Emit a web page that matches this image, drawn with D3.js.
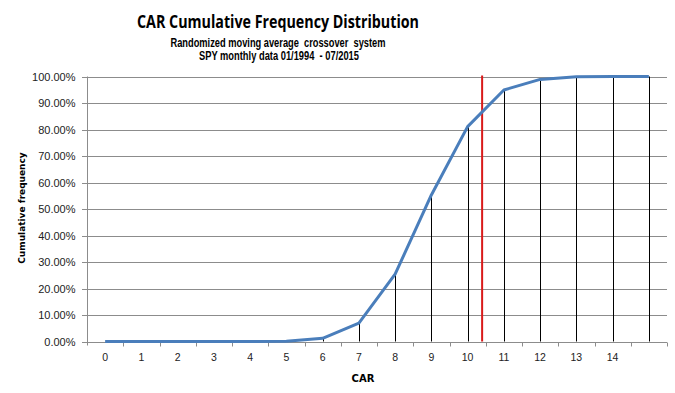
<html>
<head>
<script src="https://d3js.org/d3.v7.min.js"></script>
<style>
body { margin: 0; background: #fff; }
svg { font-family: "DejaVu Sans", Tahoma, sans-serif; }
.grid line { stroke: #8c8c8c; stroke-width: 1; }
.axis path, .axis line { stroke: #8c8c8c; }
</style>
</head>
<body>
<div id="root"></div>
<script>
// categorias eje x (la ultima sin etiqueta)
var categorias = ["0","1","2","3","4","5","6","7","8","9","10","11","12","13","14",""];
// frecuencia acumulada (fraccion)
var acumulado = [0, 0, 0, 0, 0, 0.001, 0.012, 0.069, 0.254, 0.553, 0.811, 0.949, 0.989, 0.999, 1.0, 1.0];
var yTicks = [0, 0.1, 0.2, 0.3, 0.4, 0.5, 0.6, 0.7, 0.8, 0.9, 1.0];
var carActual = 10.4; // linea roja

var W = 675, H = 393;
var mLeft = 87, mRight = 667, mTop = 76.5, mBottom = 341.5;

var svg = d3.select("#root").append("svg")
  .attr("width", W).attr("height", H);

/* escalas */
var x = d3.scaleBand().domain(categorias.map((d, i) => i)).range([mLeft, mRight]);
var xc = i => x(i) + x.bandwidth() / 2;
var y = d3.scaleLinear().domain([0, 1]).range([mBottom, mTop]);

/* titulos */
svg.append("text").attr("x", 278).attr("y", 28)
  .attr("text-anchor", "middle")
  .attr("textLength", 282).attr("lengthAdjust", "spacingAndGlyphs")
  .style("font-family", "'Open Sans', sans-serif")
  .style("font-weight", "bold").style("font-size", "18px")
  .text("CAR Cumulative Frequency Distribution");
svg.append("text").attr("x", 278).attr("y", 47)
  .attr("text-anchor", "middle")
  .attr("textLength", 215).attr("lengthAdjust", "spacingAndGlyphs")
  .style("font-family", "'Liberation Sans', sans-serif")
  .style("white-space", "pre")
  .style("font-weight", "bold").style("font-size", "12.5px")
  .text("Randomized moving average  crossover  system");
svg.append("text").attr("x", 279).attr("y", 60)
  .attr("text-anchor", "middle")
  .attr("textLength", 160).attr("lengthAdjust", "spacingAndGlyphs")
  .style("font-family", "'Liberation Sans', sans-serif")
  .style("white-space", "pre")
  .style("font-weight", "bold").style("font-size", "12.5px")
  .text("SPY monthly data 01/1994  - 07/2015");

/* rejilla horizontal */
svg.append("g").attr("class", "grid")
  .selectAll("line").data(yTicks).enter().append("line")
  .attr("x1", mLeft - 5).attr("x2", mRight)
  .attr("y1", d => Math.round(y(d)) + 0.5).attr("y2", d => Math.round(y(d)) + 0.5);

/* eje y */
var yAxis = d3.axisLeft(y).tickValues(yTicks).tickSize(0).tickPadding(12)
  .tickFormat(d => d3.format(".2f")(d * 100) + "%");
svg.append("g").attr("class", "axis")
  .attr("transform", "translate(" + (mLeft + 0.5) + ",0)")
  .call(yAxis)
  .call(g => g.selectAll("text").style("font-size", "11px").attr("fill", "#222"))
  .call(g => g.select(".domain").attr("d", "M0," + mTop + "V" + (mBottom + 4)));

/* eje x */
var xAxis = d3.axisBottom(x).tickSize(0).tickPadding(11).tickFormat(i => categorias[i]);
var gx = svg.append("g").attr("class", "axis")
  .attr("transform", "translate(0," + (Math.round(mBottom) + 0.5) + ")")
  .call(xAxis);
gx.selectAll("text").style("font-size", "10.5px").attr("fill", "#222");
gx.select(".domain").attr("d", "M" + mLeft + ",0H" + mRight);
gx.selectAll(".sep").data(d3.range(1, categorias.length + 1)).enter().append("line")
  .attr("class", "sep")
  .attr("x1", i => Math.round(mLeft + i * x.bandwidth()) + 0.5)
  .attr("x2", i => Math.round(mLeft + i * x.bandwidth()) + 0.5)
  .attr("y1", 0).attr("y2", 4).attr("stroke", "#8c8c8c");

/* lineas de caida */
svg.append("g").selectAll("line").data(acumulado).enter().append("line")
  .attr("x1", (d, i) => Math.round(xc(i)) + 0.5).attr("x2", (d, i) => Math.round(xc(i)) + 0.5)
  .attr("y1", d => y(d)).attr("y2", mBottom)
  .attr("stroke", "#000").attr("stroke-width", 1);

/* linea roja */
var xr = xc(10) + (carActual - 10) * x.bandwidth();
svg.append("line")
  .attr("x1", xr).attr("x2", xr).attr("y1", mTop - 1).attr("y2", mBottom)
  .attr("stroke", "#d91a1a").attr("stroke-width", 2);

/* linea acumulada */
var line = d3.line().x((d, i) => xc(i)).y(d => y(d));
svg.append("path").datum(acumulado)
  .attr("d", line).attr("fill", "none")
  .attr("stroke", "#4a7ebb").attr("stroke-width", 3)
  .attr("stroke-linejoin", "round");

/* titulos de ejes */
svg.append("text").attr("x", 363).attr("y", 382)
  .attr("text-anchor", "middle")
  .style("font-weight", "bold").style("font-size", "10px")
  .text("CAR");
svg.append("text")
  .attr("transform", "translate(25,208) rotate(-90)")
  .attr("text-anchor", "middle")
  .style("font-weight", "bold").style("font-size", "9px")
  .text("Cumulative frequency");
</script>
</body>
</html>
